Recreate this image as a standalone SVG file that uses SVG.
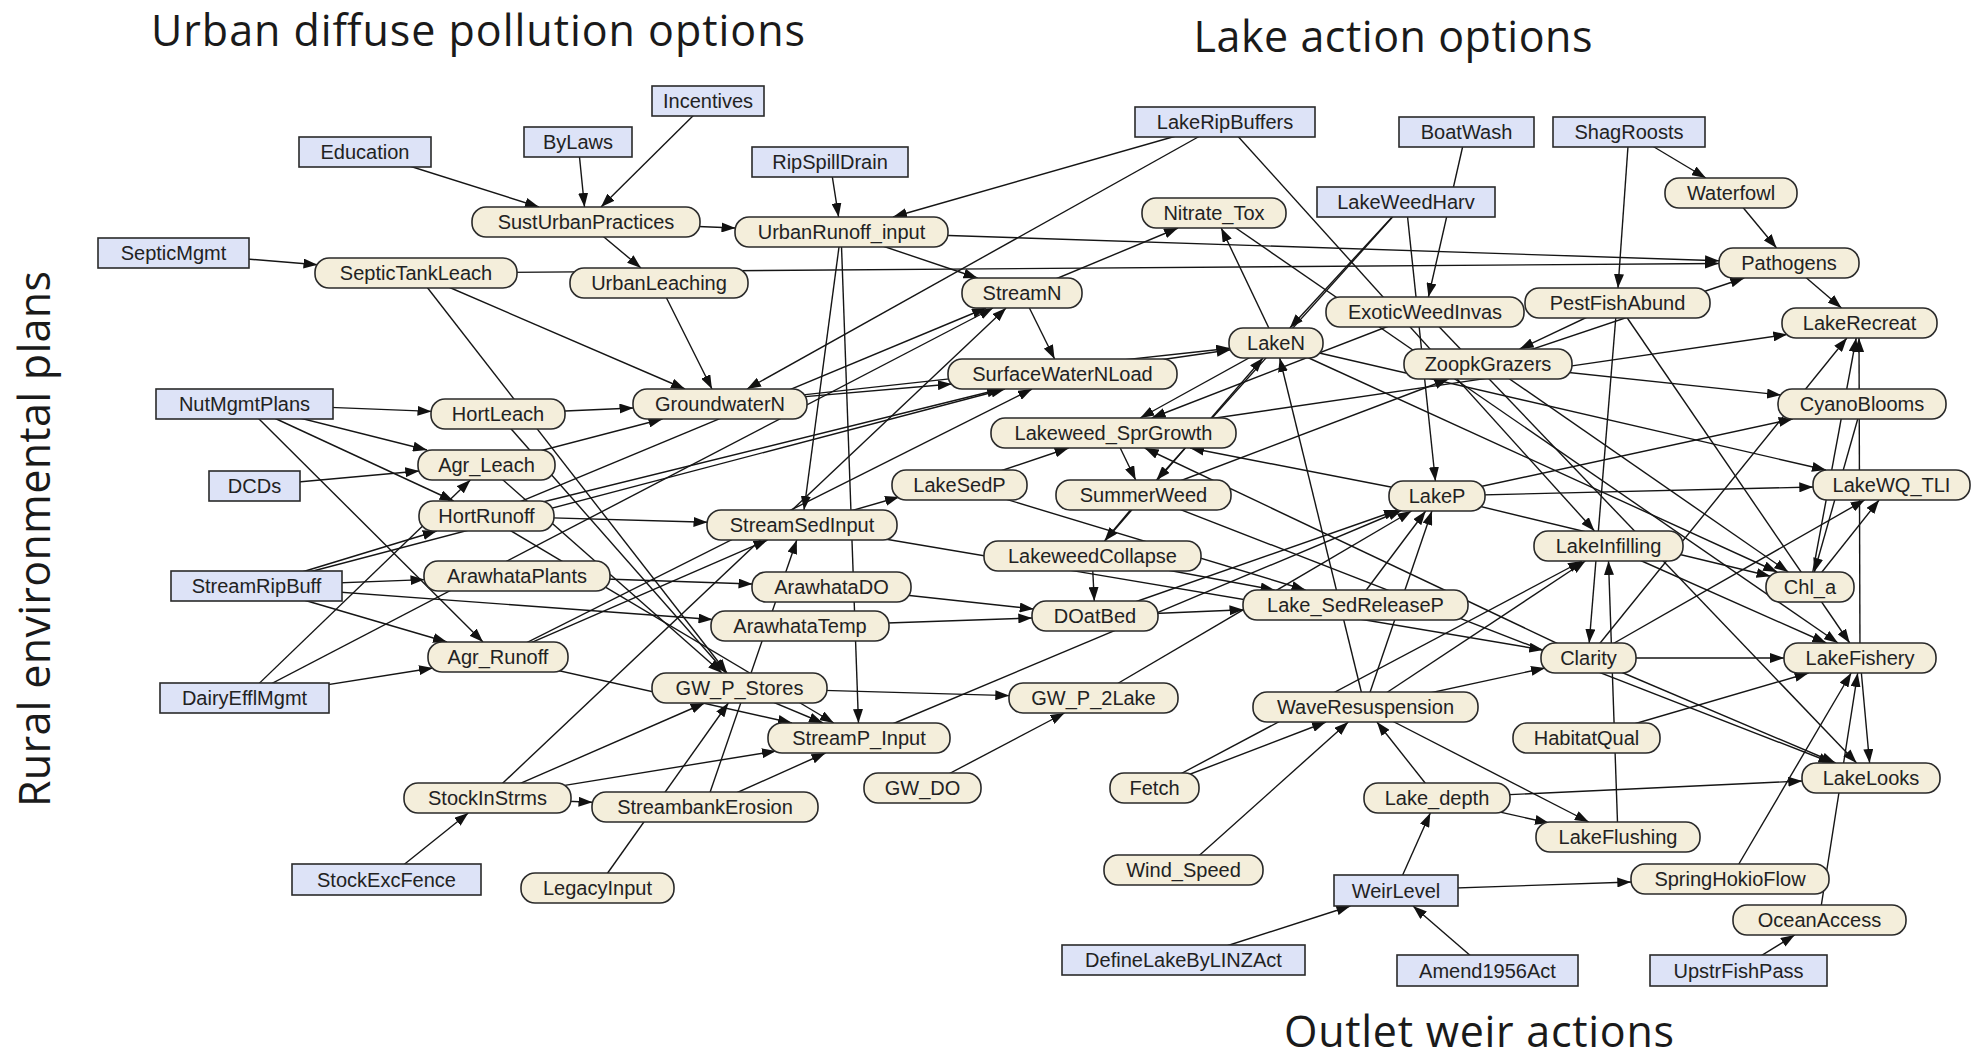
<svg xmlns="http://www.w3.org/2000/svg" width="1978" height="1060" viewBox="0 0 1978 1060">
<defs>
<marker id="ah" viewBox="0 0 14 10" refX="14" refY="5" markerWidth="14" markerHeight="10" markerUnits="userSpaceOnUse" orient="auto"><path d="M0,0 L14,5 L0,10 z" fill="#111"/></marker>
<style>
.title{font-family:"Open Sans","Liberation Sans",sans-serif;font-size:43px;fill:#1a1a1a;text-anchor:middle}
#connectors line{stroke:#151515;stroke-width:1.4;fill:none;marker-end:url(#ah)}
.dec rect{fill:#dde3f7;stroke:#2a2a2a;stroke-width:1.6}
.cha rect{fill:#f4eedb;stroke:#2a2a2a;stroke-width:1.6}
.node text{font-family:"Liberation Sans",Arial,sans-serif;font-size:20px;fill:#222;text-anchor:middle}
</style>
</defs>
<rect width="1978" height="1060" fill="#ffffff"/>
<text class="title" x="478" y="46" textLength="654">Urban diffuse pollution options</text>
<text class="title" x="1393" y="52" textLength="399">Lake action options</text>
<text class="title" x="1479" y="1047" textLength="390">Outlet weir actions</text>
<text class="title" transform="translate(50,539) rotate(-90)" textLength="536">Rural environmental plans</text>
<g id="connectors">
<line x1="365" y1="152" x2="539" y2="207"/>
<line x1="578" y1="142" x2="584.5" y2="207"/>
<line x1="708" y1="101" x2="601" y2="207"/>
<line x1="173" y1="253" x2="317.5" y2="264.7"/>
<line x1="586" y1="222" x2="641" y2="268"/>
<line x1="586" y1="222" x2="735.5" y2="228"/>
<line x1="830" y1="162" x2="838.6" y2="217"/>
<line x1="416" y1="273" x2="1719" y2="263.5"/>
<line x1="841" y1="232" x2="1719" y2="260.7"/>
<line x1="416" y1="273" x2="685" y2="389"/>
<line x1="416" y1="273" x2="727" y2="673"/>
<line x1="659" y1="283" x2="712" y2="389"/>
<line x1="841" y1="232" x2="977.5" y2="278"/>
<line x1="841" y1="232" x2="804" y2="510"/>
<line x1="841" y1="232" x2="858.5" y2="723"/>
<line x1="1225" y1="122" x2="893" y2="217"/>
<line x1="1225" y1="122" x2="747" y2="389"/>
<line x1="1225" y1="122" x2="1594.5" y2="531"/>
<line x1="1022" y1="293" x2="1178" y2="228"/>
<line x1="1022" y1="293" x2="1054.6" y2="359"/>
<line x1="1276" y1="343" x2="1221.2" y2="228"/>
<line x1="1214" y1="213" x2="1838" y2="643"/>
<line x1="244" y1="404" x2="431.5" y2="411.4"/>
<line x1="244" y1="404" x2="427" y2="450"/>
<line x1="244" y1="404" x2="453.6" y2="501"/>
<line x1="244" y1="404" x2="483" y2="642"/>
<line x1="254" y1="486" x2="419.3" y2="471"/>
<line x1="498" y1="414" x2="633.5" y2="408"/>
<line x1="486" y1="465" x2="662.5" y2="419"/>
<line x1="486" y1="516" x2="707.5" y2="522.3"/>
<line x1="486" y1="516" x2="986" y2="308"/>
<line x1="486" y1="516" x2="1001" y2="389"/>
<line x1="256" y1="586" x2="436.7" y2="531"/>
<line x1="256" y1="586" x2="424.5" y2="579.6"/>
<line x1="256" y1="586" x2="447" y2="642"/>
<line x1="256" y1="586" x2="712.5" y2="619.5"/>
<line x1="244" y1="698" x2="433" y2="668"/>
<line x1="244" y1="698" x2="470.4" y2="480"/>
<line x1="244" y1="698" x2="993" y2="308"/>
<line x1="498" y1="657" x2="767.5" y2="540"/>
<line x1="498" y1="657" x2="1032" y2="389"/>
<line x1="498" y1="657" x2="792" y2="723"/>
<line x1="498" y1="414" x2="726" y2="673"/>
<line x1="486" y1="465" x2="722" y2="673"/>
<line x1="517" y1="576" x2="752.5" y2="584"/>
<line x1="705" y1="807" x2="796.8" y2="540"/>
<line x1="831" y1="587" x2="1033.7" y2="609"/>
<line x1="800" y1="626" x2="1032.3" y2="618"/>
<line x1="739" y1="688" x2="1009.3" y2="695.6"/>
<line x1="739" y1="688" x2="823" y2="723"/>
<line x1="922" y1="788" x2="1064.5" y2="713"/>
<line x1="1093" y1="698" x2="1411.5" y2="511"/>
<line x1="859" y1="738" x2="1402" y2="510"/>
<line x1="802" y1="525" x2="899" y2="497"/>
<line x1="802" y1="525" x2="1543.3" y2="650"/>
<line x1="959" y1="485" x2="1305.5" y2="590"/>
<line x1="959" y1="485" x2="1068.6" y2="448"/>
<line x1="1113" y1="433" x2="1135.7" y2="480"/>
<line x1="1143" y1="495" x2="1104.5" y2="541"/>
<line x1="1092" y1="556" x2="1094.3" y2="601"/>
<line x1="1092" y1="556" x2="1274.5" y2="590"/>
<line x1="1095" y1="616" x2="1243.5" y2="609.7"/>
<line x1="1095" y1="616" x2="1398" y2="510"/>
<line x1="1355" y1="605" x2="1425.7" y2="511"/>
<line x1="1365" y1="707" x2="1279.7" y2="358"/>
<line x1="1365" y1="707" x2="1431.9" y2="511"/>
<line x1="1365" y1="707" x2="1545" y2="668"/>
<line x1="1365" y1="707" x2="1585.4" y2="561"/>
<line x1="1617" y1="303" x2="1589.2" y2="643"/>
<line x1="1618" y1="837" x2="1608.5" y2="561"/>
<line x1="1588" y1="658" x2="1784" y2="658"/>
<line x1="1588" y1="658" x2="1835.6" y2="763"/>
<line x1="1588" y1="658" x2="1846.9" y2="338"/>
<line x1="1586" y1="738" x2="1808.6" y2="673"/>
<line x1="1437" y1="798" x2="1376.9" y2="722"/>
<line x1="1437" y1="798" x2="1549" y2="823"/>
<line x1="1437" y1="798" x2="1802.3" y2="781"/>
<line x1="1365" y1="707" x2="1588.8" y2="822"/>
<line x1="1396" y1="890" x2="1430.3" y2="813"/>
<line x1="1396" y1="890" x2="1631.3" y2="882"/>
<line x1="1183" y1="960" x2="1350.4" y2="906"/>
<line x1="1487" y1="970" x2="1413" y2="906"/>
<line x1="1738" y1="970" x2="1794.7" y2="935"/>
<line x1="1154" y1="788" x2="1326" y2="722"/>
<line x1="1183" y1="870" x2="1348.3" y2="722"/>
<line x1="1730" y1="879" x2="1851.2" y2="673"/>
<line x1="1819" y1="920" x2="1857.7" y2="673"/>
<line x1="1860" y1="658" x2="1869.6" y2="763"/>
<line x1="1860" y1="658" x2="1859" y2="338"/>
<line x1="1629" y1="132" x2="1705.9" y2="178"/>
<line x1="1629" y1="132" x2="1618" y2="288"/>
<line x1="1731" y1="193" x2="1776.6" y2="248"/>
<line x1="1789" y1="263" x2="1841.5" y2="308"/>
<line x1="1488" y1="364" x2="1744.3" y2="278"/>
<line x1="1466" y1="132" x2="1428.4" y2="297"/>
<line x1="1406" y1="202" x2="1435.4" y2="481"/>
<line x1="1406" y1="202" x2="1289.8" y2="328"/>
<line x1="1406" y1="202" x2="1156.5" y2="480"/>
<line x1="1617" y1="303" x2="1519.7" y2="349"/>
<line x1="1488" y1="364" x2="1781" y2="395"/>
<line x1="1488" y1="364" x2="1788.3" y2="572"/>
<line x1="1276" y1="343" x2="1826" y2="470"/>
<line x1="1276" y1="343" x2="1777.2" y2="572"/>
<line x1="1062" y1="374" x2="1230.6" y2="349.8"/>
<line x1="720" y1="404" x2="1230.3" y2="348.2"/>
<line x1="720" y1="404" x2="951.8" y2="384"/>
<line x1="1276" y1="343" x2="1140.2" y2="418"/>
<line x1="1437" y1="496" x2="1190.1" y2="448"/>
<line x1="1588" y1="658" x2="1144.7" y2="448"/>
<line x1="1425" y1="312" x2="1151.7" y2="418"/>
<line x1="1437" y1="496" x2="1813.3" y2="487"/>
<line x1="1437" y1="496" x2="1792.7" y2="419"/>
<line x1="1437" y1="496" x2="1770.5" y2="576.3"/>
<line x1="1810" y1="587" x2="1879.1" y2="500"/>
<line x1="1862" y1="404" x2="1814.3" y2="572"/>
<line x1="1810" y1="587" x2="1856.2" y2="338"/>
<line x1="1143" y1="495" x2="1448.5" y2="379"/>
<line x1="1143" y1="495" x2="1832.4" y2="763"/>
<line x1="1425" y1="312" x2="1856.6" y2="763"/>
<line x1="1617" y1="303" x2="1849.7" y2="643"/>
<line x1="1113" y1="433" x2="1787.3" y2="334.4"/>
<line x1="487" y1="798" x2="1006.1" y2="308"/>
<line x1="487" y1="798" x2="704.7" y2="703"/>
<line x1="487" y1="798" x2="776" y2="751"/>
<line x1="487" y1="798" x2="592.5" y2="802.3"/>
<line x1="386" y1="879" x2="468.3" y2="813"/>
<line x1="705" y1="807" x2="825.5" y2="753"/>
<line x1="597" y1="888" x2="728.4" y2="703"/>
<line x1="256" y1="586" x2="1005" y2="389"/>
<line x1="1608" y1="546" x2="1826.3" y2="643"/>
<line x1="1588" y1="658" x2="1864.7" y2="500"/>
<line x1="1092" y1="556" x2="1263" y2="358"/>
<line x1="486" y1="516" x2="833.8" y2="723"/>
<line x1="1154" y1="788" x2="1582" y2="561"/>
</g>
<g id="n-Incentives" class="node dec"><rect x="652" y="86" width="112" height="30"/><text x="708" y="108">Incentives</text></g>
<g id="n-ByLaws" class="node dec"><rect x="524" y="127" width="108" height="30"/><text x="578" y="149">ByLaws</text></g>
<g id="n-Education" class="node dec"><rect x="299" y="137" width="132" height="30"/><text x="365" y="159">Education</text></g>
<g id="n-SepticMgmt" class="node dec"><rect x="98" y="238" width="151" height="30"/><text x="173.5" y="260">SepticMgmt</text></g>
<g id="n-RipSpillDrain" class="node dec"><rect x="752" y="147" width="156" height="30"/><text x="830" y="169">RipSpillDrain</text></g>
<g id="n-LakeRipBuffers" class="node dec"><rect x="1135" y="107" width="180" height="30"/><text x="1225" y="129">LakeRipBuffers</text></g>
<g id="n-BoatWash" class="node dec"><rect x="1399" y="117" width="135" height="30"/><text x="1466.5" y="139">BoatWash</text></g>
<g id="n-ShagRoosts" class="node dec"><rect x="1553" y="117" width="152" height="30"/><text x="1629" y="139">ShagRoosts</text></g>
<g id="n-LakeWeedHarv" class="node dec"><rect x="1317" y="187" width="178" height="30"/><text x="1406" y="209">LakeWeedHarv</text></g>
<g id="n-NutMgmtPlans" class="node dec"><rect x="156" y="389" width="177" height="30"/><text x="244.5" y="411">NutMgmtPlans</text></g>
<g id="n-DCDs" class="node dec"><rect x="209" y="471" width="91" height="30"/><text x="254.5" y="493">DCDs</text></g>
<g id="n-StreamRipBuff" class="node dec"><rect x="171" y="571" width="171" height="30"/><text x="256.5" y="593">StreamRipBuff</text></g>
<g id="n-DairyEfflMgmt" class="node dec"><rect x="160" y="683" width="169" height="30"/><text x="244.5" y="705">DairyEfflMgmt</text></g>
<g id="n-StockExcFence" class="node dec"><rect x="292" y="864" width="189" height="31"/><text x="386.5" y="887">StockExcFence</text></g>
<g id="n-WeirLevel" class="node dec"><rect x="1334" y="875" width="124" height="31"/><text x="1396" y="898">WeirLevel</text></g>
<g id="n-DefineLakeByLINZAct" class="node dec"><rect x="1062" y="945" width="243" height="30"/><text x="1183.5" y="967">DefineLakeByLINZAct</text></g>
<g id="n-Amend1956Act" class="node dec"><rect x="1397" y="955" width="181" height="31"/><text x="1487.5" y="978">Amend1956Act</text></g>
<g id="n-UpstrFishPass" class="node dec"><rect x="1650" y="955" width="177" height="31"/><text x="1738.5" y="978">UpstrFishPass</text></g>
<g id="n-SustUrbanPractices" class="node cha"><rect x="472" y="207" width="228" height="30" rx="14"/><text x="586" y="229">SustUrbanPractices</text></g>
<g id="n-SepticTankLeach" class="node cha"><rect x="315" y="258" width="202" height="30" rx="14"/><text x="416" y="280">SepticTankLeach</text></g>
<g id="n-UrbanLeaching" class="node cha"><rect x="570" y="268" width="178" height="30" rx="14"/><text x="659" y="290">UrbanLeaching</text></g>
<g id="n-UrbanRunoff_input" class="node cha"><rect x="735" y="217" width="213" height="30" rx="14"/><text x="841.5" y="239">UrbanRunoff_input</text></g>
<g id="n-Nitrate_Tox" class="node cha"><rect x="1142" y="198" width="144" height="30" rx="14"/><text x="1214" y="220">Nitrate_Tox</text></g>
<g id="n-StreamN" class="node cha"><rect x="962" y="278" width="120" height="30" rx="14"/><text x="1022" y="300">StreamN</text></g>
<g id="n-LakeN" class="node cha"><rect x="1229" y="328" width="94" height="30" rx="14"/><text x="1276" y="350">LakeN</text></g>
<g id="n-SurfaceWaterNLoad" class="node cha"><rect x="948" y="359" width="229" height="30" rx="14"/><text x="1062.5" y="381">SurfaceWaterNLoad</text></g>
<g id="n-GroundwaterN" class="node cha"><rect x="633" y="389" width="174" height="30" rx="14"/><text x="720" y="411">GroundwaterN</text></g>
<g id="n-HortLeach" class="node cha"><rect x="431" y="399" width="134" height="30" rx="14"/><text x="498" y="421">HortLeach</text></g>
<g id="n-Agr_Leach" class="node cha"><rect x="418" y="450" width="137" height="30" rx="14"/><text x="486.5" y="472">Agr_Leach</text></g>
<g id="n-HortRunoff" class="node cha"><rect x="419" y="501" width="135" height="30" rx="14"/><text x="486.5" y="523">HortRunoff</text></g>
<g id="n-ArawhataPlants" class="node cha"><rect x="424" y="561" width="186" height="30" rx="14"/><text x="517" y="583">ArawhataPlants</text></g>
<g id="n-Agr_Runoff" class="node cha"><rect x="428" y="642" width="140" height="30" rx="14"/><text x="498" y="664">Agr_Runoff</text></g>
<g id="n-StreamSedInput" class="node cha"><rect x="707" y="510" width="190" height="30" rx="14"/><text x="802" y="532">StreamSedInput</text></g>
<g id="n-LakeSedP" class="node cha"><rect x="892" y="470" width="135" height="30" rx="14"/><text x="959.5" y="492">LakeSedP</text></g>
<g id="n-Lakeweed_SprGrowth" class="node cha"><rect x="991" y="418" width="245" height="30" rx="14"/><text x="1113.5" y="440">Lakeweed_SprGrowth</text></g>
<g id="n-SummerWeed" class="node cha"><rect x="1056" y="480" width="175" height="30" rx="14"/><text x="1143.5" y="502">SummerWeed</text></g>
<g id="n-LakeweedCollapse" class="node cha"><rect x="984" y="541" width="217" height="30" rx="14"/><text x="1092.5" y="563">LakeweedCollapse</text></g>
<g id="n-ArawhataDO" class="node cha"><rect x="752" y="572" width="159" height="30" rx="14"/><text x="831.5" y="594">ArawhataDO</text></g>
<g id="n-ArawhataTemp" class="node cha"><rect x="711" y="611" width="178" height="30" rx="14"/><text x="800" y="633">ArawhataTemp</text></g>
<g id="n-DOatBed" class="node cha"><rect x="1032" y="601" width="126" height="30" rx="14"/><text x="1095" y="623">DOatBed</text></g>
<g id="n-Lake_SedReleaseP" class="node cha"><rect x="1243" y="590" width="225" height="30" rx="14"/><text x="1355.5" y="612">Lake_SedReleaseP</text></g>
<g id="n-GW_P_Stores" class="node cha"><rect x="652" y="673" width="175" height="30" rx="14"/><text x="739.5" y="695">GW_P_Stores</text></g>
<g id="n-StreamP_Input" class="node cha"><rect x="768" y="723" width="182" height="30" rx="14"/><text x="859" y="745">StreamP_Input</text></g>
<g id="n-GW_P_2Lake" class="node cha"><rect x="1009" y="683" width="169" height="30" rx="14"/><text x="1093.5" y="705">GW_P_2Lake</text></g>
<g id="n-GW_DO" class="node cha"><rect x="864" y="773" width="117" height="30" rx="14"/><text x="922.5" y="795">GW_DO</text></g>
<g id="n-Fetch" class="node cha"><rect x="1110" y="773" width="89" height="30" rx="14"/><text x="1154.5" y="795">Fetch</text></g>
<g id="n-Wind_Speed" class="node cha"><rect x="1104" y="855" width="159" height="30" rx="14"/><text x="1183.5" y="877">Wind_Speed</text></g>
<g id="n-WaveResuspension" class="node cha"><rect x="1253" y="692" width="225" height="30" rx="14"/><text x="1365.5" y="714">WaveResuspension</text></g>
<g id="n-StockInStrms" class="node cha"><rect x="404" y="783" width="167" height="30" rx="14"/><text x="487.5" y="805">StockInStrms</text></g>
<g id="n-StreambankErosion" class="node cha"><rect x="592" y="792" width="226" height="30" rx="14"/><text x="705" y="814">StreambankErosion</text></g>
<g id="n-LegacyInput" class="node cha"><rect x="521" y="873" width="153" height="30" rx="14"/><text x="597.5" y="895">LegacyInput</text></g>
<g id="n-ZoopkGrazers" class="node cha"><rect x="1404" y="349" width="168" height="30" rx="14"/><text x="1488" y="371">ZoopkGrazers</text></g>
<g id="n-ExoticWeedInvas" class="node cha"><rect x="1326" y="297" width="198" height="30" rx="14"/><text x="1425" y="319">ExoticWeedInvas</text></g>
<g id="n-PestFishAbund" class="node cha"><rect x="1525" y="288" width="185" height="30" rx="14"/><text x="1617.5" y="310">PestFishAbund</text></g>
<g id="n-Waterfowl" class="node cha"><rect x="1665" y="178" width="132" height="30" rx="14"/><text x="1731" y="200">Waterfowl</text></g>
<g id="n-Pathogens" class="node cha"><rect x="1719" y="248" width="140" height="30" rx="14"/><text x="1789" y="270">Pathogens</text></g>
<g id="n-LakeRecreat" class="node cha"><rect x="1782" y="308" width="155" height="30" rx="14"/><text x="1859.5" y="330">LakeRecreat</text></g>
<g id="n-CyanoBlooms" class="node cha"><rect x="1778" y="389" width="168" height="30" rx="14"/><text x="1862" y="411">CyanoBlooms</text></g>
<g id="n-LakeWQ_TLI" class="node cha"><rect x="1813" y="470" width="157" height="30" rx="14"/><text x="1891.5" y="492">LakeWQ_TLI</text></g>
<g id="n-LakeP" class="node cha"><rect x="1389" y="481" width="96" height="30" rx="14"/><text x="1437" y="503">LakeP</text></g>
<g id="n-LakeInfilling" class="node cha"><rect x="1534" y="531" width="149" height="30" rx="14"/><text x="1608.5" y="553">LakeInfilling</text></g>
<g id="n-Chl_a" class="node cha"><rect x="1766" y="572" width="88" height="30" rx="14"/><text x="1810" y="594">Chl_a</text></g>
<g id="n-Clarity" class="node cha"><rect x="1541" y="643" width="95" height="30" rx="14"/><text x="1588.5" y="665">Clarity</text></g>
<g id="n-LakeFishery" class="node cha"><rect x="1784" y="643" width="152" height="30" rx="14"/><text x="1860" y="665">LakeFishery</text></g>
<g id="n-HabitatQual" class="node cha"><rect x="1513" y="723" width="147" height="30" rx="14"/><text x="1586.5" y="745">HabitatQual</text></g>
<g id="n-LakeLooks" class="node cha"><rect x="1802" y="763" width="138" height="30" rx="14"/><text x="1871" y="785">LakeLooks</text></g>
<g id="n-Lake_depth" class="node cha"><rect x="1364" y="783" width="146" height="30" rx="14"/><text x="1437" y="805">Lake_depth</text></g>
<g id="n-LakeFlushing" class="node cha"><rect x="1536" y="822" width="164" height="30" rx="14"/><text x="1618" y="844">LakeFlushing</text></g>
<g id="n-SpringHokioFlow" class="node cha"><rect x="1631" y="864" width="198" height="30" rx="14"/><text x="1730" y="886">SpringHokioFlow</text></g>
<g id="n-OceanAccess" class="node cha"><rect x="1733" y="905" width="173" height="30" rx="14"/><text x="1819.5" y="927">OceanAccess</text></g>
</svg>
